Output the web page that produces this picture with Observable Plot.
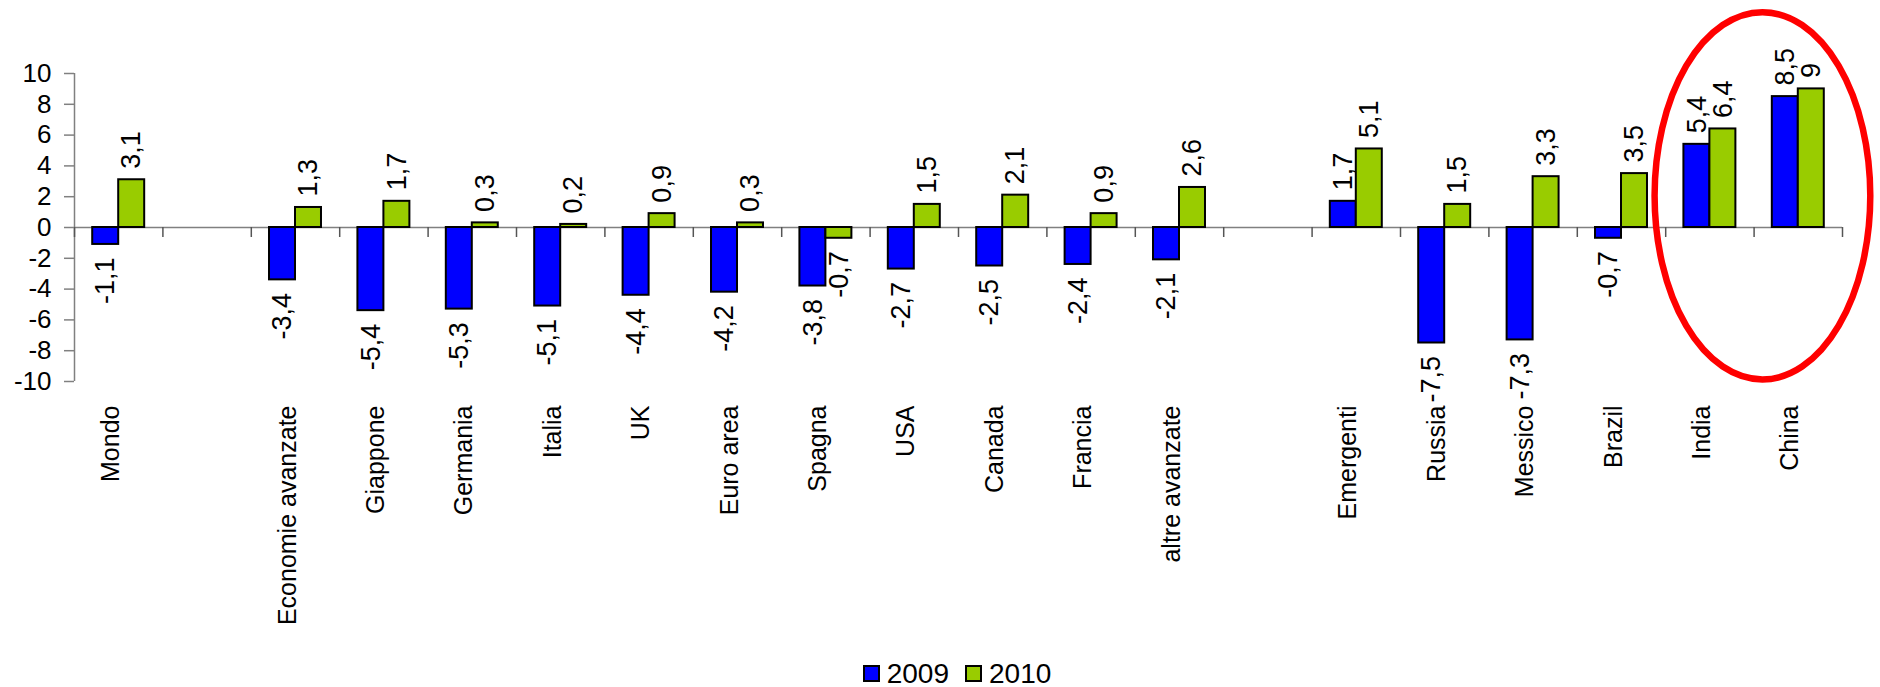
<!DOCTYPE html>
<html><head><meta charset="utf-8">
<script src="https://cdn.jsdelivr.net/npm/d3@7"></script>
<script src="https://cdn.jsdelivr.net/npm/@observablehq/plot@0.6"></script>
<style>
body{margin:0;background:#fff;font-family:"Liberation Sans",Arial,sans-serif;}
#chart svg{display:block;}
#legend{height:47px;display:flex;justify-content:center;align-items:flex-start;padding-left:34px;box-sizing:border-box;padding-top:20px;font-size:28px;line-height:27px;color:#000;}
.item{display:flex;align-items:center;margin:0 8px;}
.sw{width:13px;height:13px;border:2px solid #000;margin-right:7px;}
</style></head><body><div id="chart"></div><div id="legend"></div>
<script>
// ---- data ----
const categories = ["Mondo", "", "Economie avanzate", "Giappone", "Germania", "Italia", "UK", "Euro area", "Spagna", "USA", "Canada", "Francia", "altre avanzate", "", "Emergenti", "Russia", "Messico", "Brazil", "India", "China"];
const years = ["2009", "2010"];
const values2009 = [-1.1, null, -3.4, -5.4, -5.3, -5.1, -4.4, -4.2, -3.8, -2.7, -2.5, -2.4, -2.1, null, 1.7, -7.5, -7.3, -0.7, 5.4, 8.5];
const values2010 = [3.1, null, 1.3, 1.7, 0.3, 0.2, 0.9, 0.3, -0.7, 1.5, 2.1, 0.9, 2.6, null, 5.1, 1.5, 3.3, 3.5, 6.4, 9];
const yTicks = [-10, -8, -6, -4, -2, 0, 2, 4, 6, 8, 10];
const colors = ["#0000FF", "#99CC00"];
// highlight ellipse around India and China (in data units)
const highlight = {x: 19.1, rx: 1.22, yTop: 13.95, yBottom: -9.9};

// ---- layout helpers ----
const barW = 0.294; // bar width as fraction of a category slot
const series = [values2009, values2010];
const data = [];
categories.forEach((c, i) => {
  series.forEach((vals, s) => {
    const v = vals[i];
    if (v == null) return;
    const x1 = s === 0 ? i + 0.5 - barW : i + 0.5;
    data.push({cat: c, year: years[s], value: v, x1, x2: x1 + barW, xc: x1 + barW / 2});
  });
});
const fmt = v => String(v).replace(".", ",");
const font = "Liberation Sans, Arial, sans-serif";
const labelFont = "Liberation Sans Narrow, Arial Narrow, Liberation Sans, Arial, sans-serif";

const plot = Plot.plot({
  width: 1880,
  height: 640,
  marginLeft: 74,
  marginRight: 38,
  marginTop: 73,
  marginBottom: 259,
  style: {fontFamily: font, background: "white", color: "black", overflow: "visible"},
  x: {type: "linear", domain: [0, categories.length], axis: null},
  y: {domain: [-10, 10], axis: null},
  color: {domain: years, range: colors},
  marks: [
    Plot.ruleX([0], {stroke: "#808080", strokeWidth: 1.5}),
    Plot.ruleY([0], {stroke: "#808080", strokeWidth: 1.5}),
    Plot.ruleX(d3.range(categories.length + 1), {y1: 0, y2: 0, insetBottom: -10, stroke: "#555", strokeWidth: 1.5}),
    Plot.axisY({ticks: yTicks, tickFormat: d => String(d), label: null, tickSize: 10, tickPadding: 13, fontSize: 26, stroke: "#808080", strokeWidth: 1.5, fill: "black"}),
    Plot.rectY(data, {x1: "x1", x2: "x2", y: "value", fill: "year", stroke: "black", strokeWidth: 2}),
    Plot.text(data.filter(d => d.value >= 0), {x: "xc", y: "value", text: d => fmt(d.value), rotate: -90, textAnchor: "start", dy: -11, fontSize: 27, fontFamily: labelFont, fill: "black"}),
    Plot.text(data.filter(d => d.value < 0), {x: "xc", y: "value", text: d => fmt(d.value), rotate: -90, textAnchor: "end", dy: 13, fontSize: 27, fontFamily: labelFont, fill: "black"}),
    Plot.text(categories, {x: (d, i) => i + 0.5, frameAnchor: "bottom", text: d => d, rotate: -90, textAnchor: "end", dy: 24, fontSize: 25, fill: "black"})
  ]
});

// annotation ellipse through the plot's own scales
const xs = plot.scale("x"), ys = plot.scale("y");
const cx = xs.apply(highlight.x);
const rx = xs.apply(highlight.x + highlight.rx) - cx;
const yT = ys.apply(highlight.yTop), yB = ys.apply(highlight.yBottom);
d3.select(plot).append("ellipse")
  .attr("cx", cx).attr("cy", (yT + yB) / 2)
  .attr("rx", rx).attr("ry", (yB - yT) / 2)
  .attr("fill", "none").attr("stroke", "#FF0000").attr("stroke-width", 6.5);

document.getElementById("chart").appendChild(plot);

// legend
const lg = d3.select("#legend");
years.forEach((y, i) => {
  const it = lg.append("div").attr("class", "item");
  it.append("div").attr("class", "sw").style("background", colors[i]);
  it.append("span").text(y);
});
</script>
</body></html>
